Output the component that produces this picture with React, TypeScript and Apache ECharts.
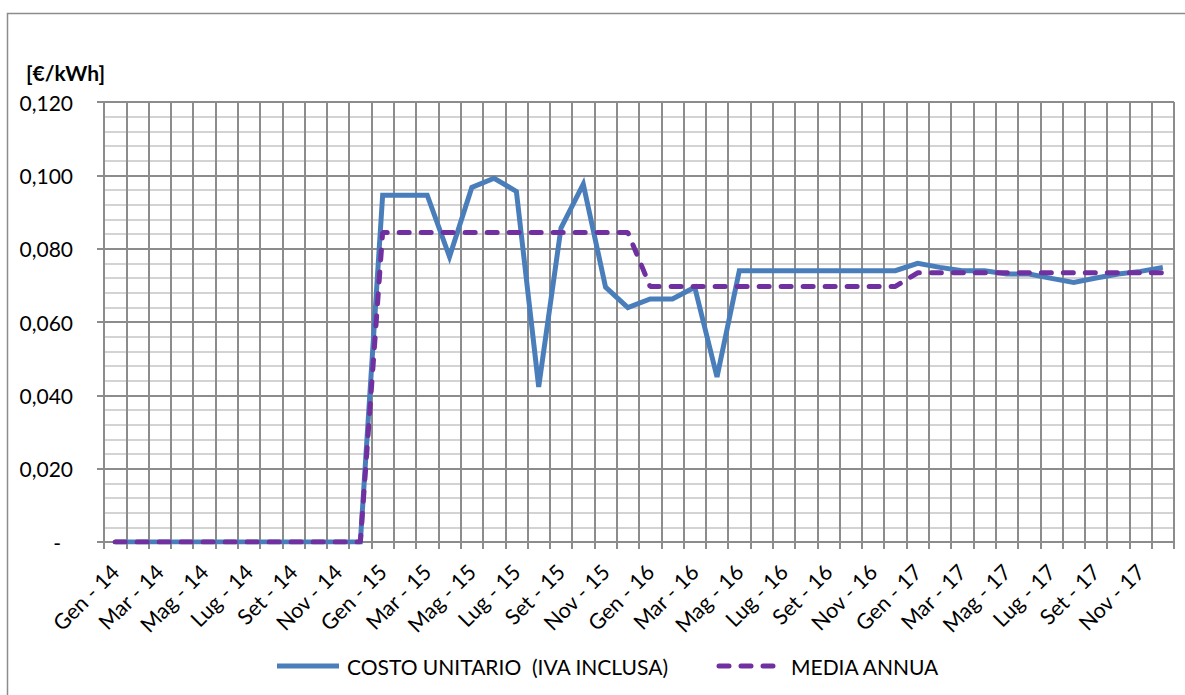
import React, { useEffect, useRef } from "react";
import * as echarts from "echarts";

const months = ["Gen", "Feb", "Mar", "Apr", "Mag", "Giu", "Lug", "Ago", "Set", "Ott", "Nov", "Dic"];
const years = ["14", "15", "16", "17"];
const categories: string[] = years.flatMap((y) => months.map((m) => `${m} - ${y}`));

const costoUnitario = [
  // 2014
  0, 0, 0, 0, 0, 0, 0, 0, 0, 0, 0, 0,
  // 2015
  0.0946, 0.0946, 0.0946, 0.0778, 0.0967, 0.0992, 0.0956, 0.0423, 0.0856, 0.0976, 0.0695, 0.0639,
  // 2016
  0.0663, 0.0663, 0.0695, 0.045, 0.074, 0.074, 0.074, 0.074, 0.074, 0.074, 0.074, 0.074,
  // 2017
  0.076, 0.0749, 0.074, 0.074, 0.0731, 0.0731, 0.0719, 0.0708, 0.072, 0.0731, 0.0738, 0.0749,
];

const mediaAnnuaPerAnno = [0, 0.0844, 0.0697, 0.0734];
const mediaAnnua = mediaAnnuaPerAnno.flatMap((v) => months.map(() => v));

const seriesNames = ["COSTO UNITARIO  (IVA INCLUSA)", "MEDIA ANNUA"];

const FONT = "Lato, 'Open Sans', sans-serif";
const BLUE = "#4a7ebb";
const PURPLE = "#7030a0";
const DASH = [10, 12];

export default function App() {
  const ref = useRef<HTMLDivElement>(null);

  useEffect(() => {
    if (!ref.current) return;
    const chart = echarts.init(ref.current, undefined, { renderer: "svg" });
    const legendY = 666;
    chart.setOption({
      animation: false,
      backgroundColor: "#ffffff",
      textStyle: { fontFamily: FONT, color: "#000" },
      graphic: [
        {
          type: "rect",
          shape: { x: 7.5, y: 13.5, width: 1200, height: 700 },
          style: { fill: "none", stroke: "#8c8c8c", lineWidth: 1.5 },
          silent: true,
        },
        // legend
        {
          type: "line",
          shape: { x1: 277, y1: legendY, x2: 339, y2: legendY },
          style: { stroke: BLUE, lineWidth: 5 },
        },
        {
          type: "text",
          x: 347,
          y: legendY,
          style: {
            text: seriesNames[0],
            fontFamily: FONT,
            fontSize: 21,
            fill: "#000",
            verticalAlign: "middle",
          },
        },
        {
          type: "line",
          shape: { x1: 719, y1: legendY, x2: 777, y2: legendY },
          style: { stroke: PURPLE, lineWidth: 5, lineDash: DASH, lineCap: "round" },
        },
        {
          type: "text",
          x: 791,
          y: legendY,
          style: {
            text: seriesNames[1],
            fontFamily: FONT,
            fontSize: 21,
            fill: "#000",
            verticalAlign: "middle",
          },
        },
      ],
      title: {
        text: "[€/kWh]",
        left: 21,
        top: 57,
        textStyle: { fontFamily: FONT, fontSize: 21, fontWeight: "bold", color: "#000" },
      },
      grid: { left: 104, right: 11, top: 102, bottom: 153, containLabel: false },
      xAxis: {
        type: "category",
        data: categories,
        boundaryGap: true,
        axisLine: { lineStyle: { color: "#8c8c8c", width: 2 } },
        axisTick: { show: true, interval: 0, length: 7, lineStyle: { color: "#8c8c8c", width: 2 } },
        axisLabel: {
          interval: 1,
          rotate: 45,
          fontSize: 21.5,
          fontFamily: FONT,
          color: "#000",
          margin: 26,
        },
        splitLine: { show: true, interval: 0, lineStyle: { color: "#8c8c8c", width: 2 } },
      },
      yAxis: {
        type: "value",
        min: 0,
        max: 0.12,
        interval: 0.02,
        axisLine: { show: true, lineStyle: { color: "#8c8c8c", width: 2 } },
        axisTick: { show: true, length: 7, lineStyle: { color: "#8c8c8c", width: 2 } },
        minorTick: { show: false, splitNumber: 5 },
        minorSplitLine: { show: true, lineStyle: { color: "#c4c4c4", width: 1.6 } },
        splitLine: { show: true, lineStyle: { color: "#8c8c8c", width: 2 } },
        axisLabel: {
          margin: 31,
          fontSize: 21,
          fontFamily: FONT,
          color: "#000",
          formatter: (v: number) => (v === 0 ? "{d|-}" : v.toFixed(3).replace(".", ",")),
          rich: { d: { fontSize: 21, fontFamily: FONT, color: "#000", padding: [0, 12, 0, 0] } },
        },
      },
      series: [
        {
          name: seriesNames[0],
          type: "line",
          data: costoUnitario,
          symbol: "none",
          lineStyle: { color: BLUE, width: 5, join: "miter" },
          itemStyle: { color: BLUE },
          z: 2,
        },
        {
          name: seriesNames[1],
          type: "line",
          data: mediaAnnua,
          symbol: "none",
          lineStyle: { color: PURPLE, width: 5, type: DASH, cap: "round" },
          itemStyle: { color: PURPLE },
          z: 3,
        },
      ],
    });
    return () => chart.dispose();
  }, []);

  return (
    <div
      ref={ref}
      style={{ position: "fixed", left: 0, top: 0, width: 1185, height: 695, background: "#fff" }}
    />
  );
}
